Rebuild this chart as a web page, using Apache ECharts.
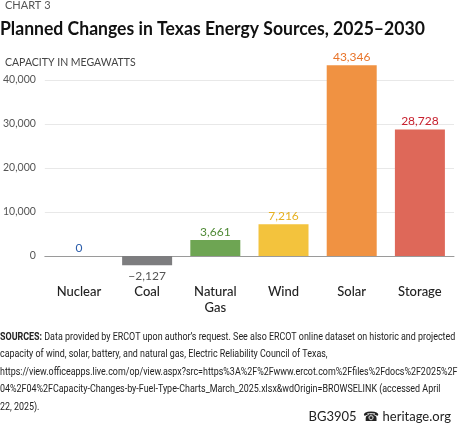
<!DOCTYPE html>
<html><head><meta charset="utf-8">
<script src="https://cdn.jsdelivr.net/npm/echarts@6/dist/echarts.min.js"></script>
<style>html,body{margin:0;padding:0;background:#fff}#c{width:461px;height:433px}</style>
</head><body><div id="c"></div>
<script>
var categories = ['Nuclear', 'Coal', 'Natural\nGas', 'Wind', 'Solar', 'Storage'];
var values = [0, -2127, 3661, 7216, 43346, 28728];
var barColors = ['#2a5caa', '#7d7d7f', '#6ea553', '#f3c33d', '#f09242', '#de6859'];
var labelColors = ['#2a5caa', '#555555', '#4f8a36', '#e6b020', '#e8742a', '#c8202e'];
var yTicks = [-10000, 0, 10000, 20000, 30000, 40000, 50000];
var sourceLines = [
  'Data provided by ERCOT upon author’s request. See also ERCOT online dataset on historic and projected',
  'capacity of wind, solar, battery, and natural gas, Electric Reliability Council of Texas,',
  'https://view.officeapps.live.com/op/view.aspx?src=https%3A%2F%2Fwww.ercot.com%2Ffiles%2Fdocs%2F2025%2F',
  '04%2F04%2FCapacity-Changes-by-Fuel-Type-Charts_March_2025.xlsx&wdOrigin=BROWSELINK (accessed April',
  '22, 2025).'
];

var chart = echarts.init(document.getElementById('c'));
var font = 'Lato, "Noto Sans", sans-serif';
var srcFont = 'Roboto, sans-serif';
chart.setOption({
  animation: false,
  textStyle: {fontFamily: font},
  title: [
    {text: 'CHART 3', left: 0, top: -5, textStyle: {fontSize: 11, fontWeight: 'normal', color: '#555', fontFamily: font}},
    {text: 'CAPACITY IN MEGAWATTS', left: 0, top: 52, textStyle: {fontSize: 10.5, fontWeight: 'normal', color: '#444', fontFamily: font}},
    {text: 'BG3905  ☎ heritage.org', right: 5, top: 405, textStyle: {fontSize: 13, fontWeight: 'normal', color: '#222', fontFamily: font}}
  ],
  graphic: [
    {type: 'text', left: 0, top: 20, scaleX: 0.95, style: {text: 'Planned Changes in Texas Energy Sources, 2025–2030', font: 'bold 18.5px ' + font, fill: '#111'}},
    {type: 'text', x: 0, y: 328, scaleX: 0.775, style: {
      text: '{b|SOURCES:} ' + sourceLines.join('\n'),
      font: '11.5px ' + srcFont, fill: '#222', lineHeight: 17.5,
      rich: {b: {fontWeight: 'bold', fontSize: 11.5, fontFamily: srcFont, fill: '#222'}}}}
  ],
  grid: {left: 39, right: 7, top: 36, bottom: 133, containLabel: false},
  xAxis: {
    type: 'category', data: categories,
    axisLine: {onZero: true, lineStyle: {color: '#9a9a9a', width: 1}},
    axisTick: {show: false},
    axisLabel: {margin: -16, fontSize: 13, fontWeight: 500, color: '#222', fontFamily: font, lineHeight: 16, verticalAlign: 'top'}
  },
  yAxis: {
    type: 'value', min: yTicks[0], max: yTicks[yTicks.length - 1], interval: 10000,
    axisLine: {show: false}, axisTick: {show: false},
    axisLabel: {showMinLabel: false, showMaxLabel: false, fontSize: 10.5, color: '#555', margin: 9, fontFamily: font,
      formatter: function (v) { return v.toLocaleString('en-US'); }},
    splitLine: {showMinLine: false, showMaxLine: false, lineStyle: {color: '#e8e8e8'}}
  },
  series: [{
    type: 'bar', barWidth: 50,
    data: values.map(function (v, i) {
      return {value: v, itemStyle: {color: barColors[i]},
        label: {show: true, position: v < 0 ? 'bottom' : 'top', distance: v < 0 ? 5 : 2, color: labelColors[i], fontSize: 12,
          formatter: function (p) { return p.value < 0 ? '−' + Math.abs(p.value).toLocaleString('en-US') : p.value.toLocaleString('en-US'); }}};
    })
  }]
});
</script></body></html>
